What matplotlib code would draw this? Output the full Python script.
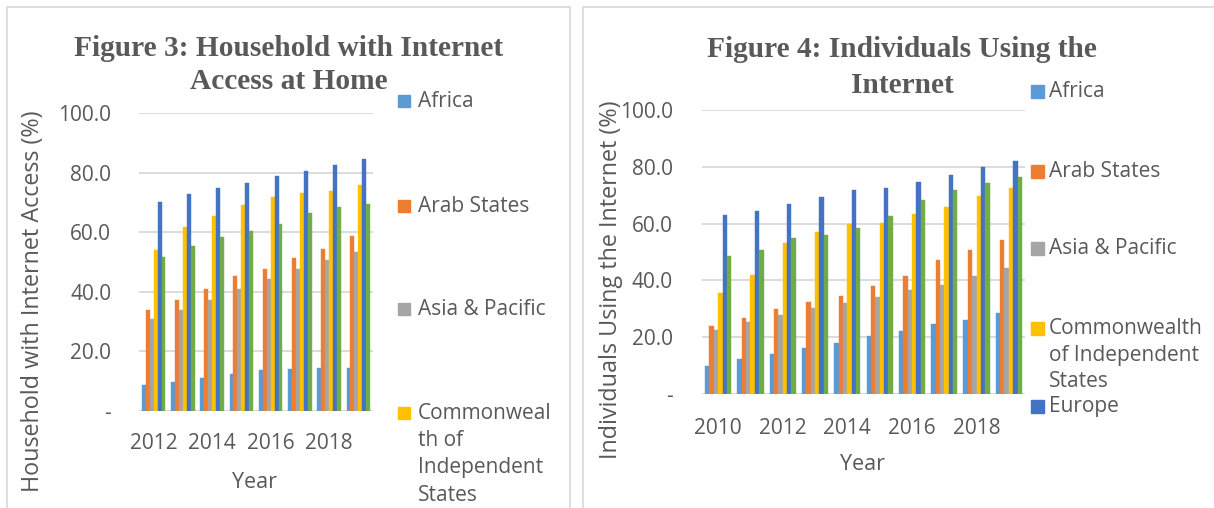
import numpy as np
import matplotlib
matplotlib.use('Agg')
import matplotlib.pyplot as plt
from matplotlib.patches import Rectangle

# --------------------- data

series = ['Africa', 'Arab States', 'Asia & Pacific',
          'Commonwealth of Independent States', 'Europe', 'The Americas']
colors = ['#5B9BD5', '#ED7D31', '#A5A5A5', '#FFC000', '#4472C4', '#70AD47']

# Figure 3: households with internet access at home (%)
years3 = [2012, 2013, 2014, 2015, 2016, 2017, 2018, 2019]
africa3 = [8.7, 9.6, 11.2, 12.4, 13.7, 14.2, 14.4, 14.3]
arab3 = [33.9, 37.2, 41.0, 45.2, 47.6, 51.5, 54.3, 58.6]
asia3 = [30.9, 34.0, 37.3, 41.0, 44.2, 47.7, 50.8, 53.3]
cis3 = [54.0, 61.9, 65.4, 69.0, 71.8, 73.0, 73.8, 76.0]
europe3 = [70.1, 72.9, 74.9, 76.4, 78.7, 80.6, 82.5, 84.7]
americas3 = [51.8, 55.5, 58.3, 60.4, 62.9, 66.3, 68.4, 69.4]

# Figure 4: individuals using the internet (%)
years4 = [2010, 2011, 2012, 2013, 2014, 2015, 2016, 2017, 2018, 2019]
africa4 = [9.9, 12.2, 14.1, 16.1, 18.1, 20.3, 22.3, 24.6, 26.2, 28.5]
arab4 = [23.9, 26.8, 29.9, 32.4, 34.6, 38.0, 41.5, 47.1, 50.7, 54.3]
asia4 = [22.5, 25.2, 27.7, 30.3, 32.2, 34.0, 36.6, 38.5, 41.7, 44.2]
cis4 = [35.4, 41.9, 53.2, 56.9, 59.7, 60.3, 63.4, 65.8, 69.7, 72.4]
europe4 = [62.9, 64.6, 67.0, 69.2, 71.7, 72.7, 74.8, 77.1, 79.8, 82.2]
americas4 = [48.7, 50.8, 55.0, 56.1, 58.6, 62.8, 68.4, 71.9, 74.4, 76.4]

yticks = [0, 20, 40, 60, 80, 100]
ytick_labels = ['-', '20.0', '40.0', '60.0', '80.0', '100.0']

title3 = ['Figure 3: Household with Internet', 'Access at Home']
title4 = ['Figure 4: Individuals Using the', 'Internet']

# legend text as it is wrapped in each panel (only the entries that fit are shown)
legend3 = ['Africa', 'Arab States', 'Asia & Pacific',
           'Commonweal\nth of\nIndependent\nStates']
legend4 = ['Africa', 'Arab States', 'Asia & Pacific',
           'Commonwealth\nof Independent\nStates', 'Europe']

# ---------------------

W, H = 1214, 508
TXT = '#595959'
GRID = '#D9D9D9'
plt.rcParams['font.family'] = ['Open Sans', 'DejaVu Sans']

fig = plt.figure(figsize=(W / 100, H / 100), dpi=100)
fig.patch.set_facecolor('white')


def fx(px):
    return px / W


def fy(py):
    return 1 - py / H


# panel frames
fig.patches.append(Rectangle((fx(7), fy(520)), fx(563), fy(7) - fy(520),
                             transform=fig.transFigure, fill=False,
                             edgecolor=GRID, lw=1.2))
fig.patches.append(Rectangle((fx(583), fy(520)), fx(650), fy(7) - fy(520),
                             transform=fig.transFigure, fill=False,
                             edgecolor=GRID, lw=1.2))


def draw_panel(rect, years, data, ypad, xpad):
    ax = fig.add_axes(rect)
    n = len(years)
    x = np.arange(n)
    w = 0.135
    for i, vals in enumerate(data):
        ax.bar(x + (i - 2.5) * w, vals, width=w, color=colors[i],
               edgecolor=colors[i], linewidth=0.3, zorder=3)
    ax.set_xlim(-0.5, n - 0.5)
    ax.set_ylim(0, 100)
    ax.set_yticks(yticks)
    ax.set_yticklabels(ytick_labels)
    ax.set_xticks(x[::2])
    ax.set_xticklabels([str(y) for y in years[::2]])
    ax.tick_params(axis='y', length=0, pad=ypad, labelsize=15, labelcolor=TXT)
    ax.tick_params(axis='x', length=0, pad=xpad, labelsize=15, labelcolor=TXT)
    ax.grid(axis='y', color=GRID, lw=1.3, zorder=0)
    for s in ax.spines.values():
        s.set_visible(False)
    return ax


def draw_title(lines, xc, baselines):
    for line, yb in zip(lines, baselines):
        fig.text(fx(xc), fy(yb), line, ha='center', va='baseline',
                 family='Liberation Serif', weight='bold', fontsize=21.2,
                 color=TXT)


# ----- Figure 3
ax1 = draw_panel([fx(139), fy(411), fx(373) - fx(139), fy(113) - fy(411)],
                 years3, [africa3, arab3, asia3, cis3, europe3, americas3],
                 20, 16)
draw_title(title3, 289, [56, 89])
fig.text(fx(33.5), fy(301), 'Household with Internet Access (%)', rotation=90,
         ha='center', va='center', fontsize=16.8, color=TXT)
fig.text(fx(254.5), fy(482), 'Year', ha='center', va='center', fontsize=15.5,
         color=TXT)

leg3_y = [101, 206, 309, 413]
for i, lab in enumerate(legend3):
    fig.patches.append(Rectangle((fx(398), fy(leg3_y[i] + 6)), fx(12), fy(0) - fy(12),
                                 transform=fig.transFigure, color=colors[i]))
    fig.text(fx(418), fy(leg3_y[i] - 10), lab, ha='left', va='top', fontsize=15,
             color=TXT, linespacing=1.39)

# ----- Figure 4
ax2 = draw_panel([fx(702), fy(394), fx(1025) - fx(702), fy(110) - fy(394)],
                 years4, [africa4, arab4, asia4, cis4, europe4, americas4],
                 21, 17.5)
draw_title(title4, 902, [57, 93])
fig.text(fx(611), fy(280), 'Individuals Using the Internet (%)', rotation=90,
         ha='center', va='center', fontsize=16.8, color=TXT)
fig.text(fx(862), fy(465), 'Year', ha='center', va='center', fontsize=15.5,
         color=TXT)

leg4_y = [91, 171, 248, 328, 406]
for i, lab in enumerate(legend4):
    fig.patches.append(Rectangle((fx(1031), fy(leg4_y[i] + 7)), fx(13), fy(0) - fy(13),
                                 transform=fig.transFigure, color=colors[i]))
    fig.text(fx(1049), fy(leg4_y[i] - 10), lab, ha='left', va='top', fontsize=15,
             color=TXT, linespacing=1.35)

fig.savefig('out.png', dpi=100)
